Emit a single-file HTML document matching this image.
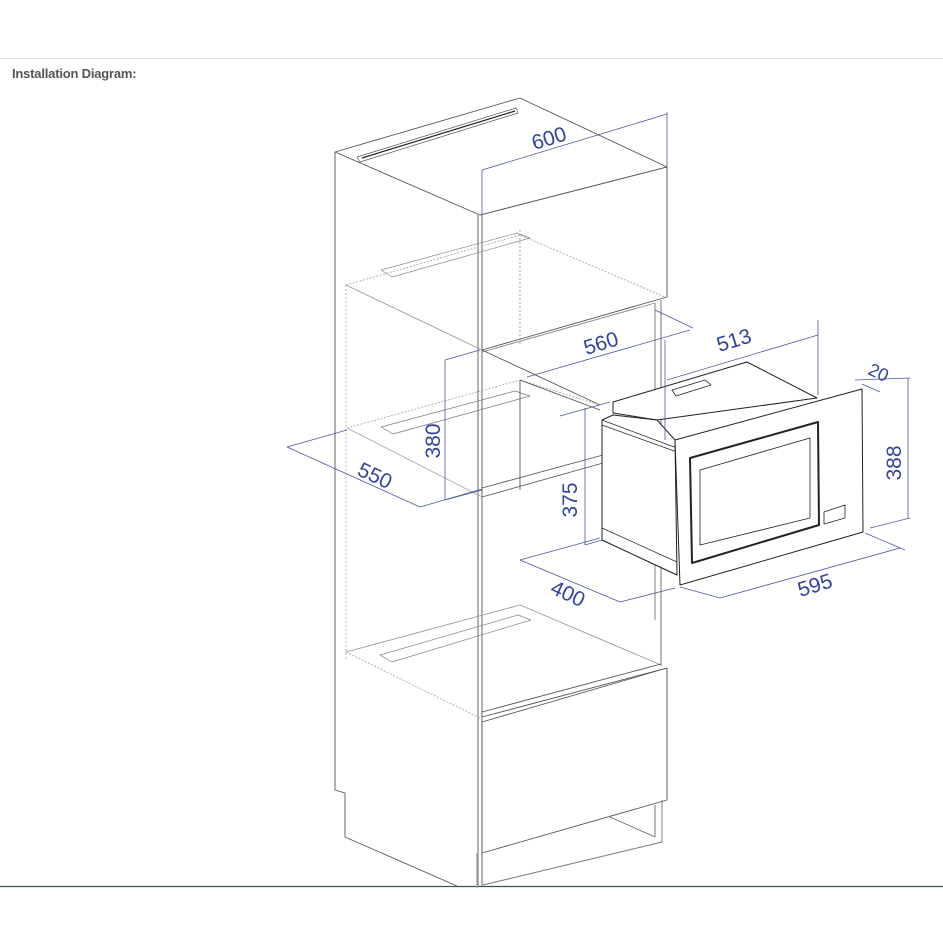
<!DOCTYPE html>
<html><head><meta charset="utf-8"><style>
html,body{margin:0;padding:0;background:#fff;width:943px;height:943px;overflow:hidden}
.t{position:absolute;left:12px;top:66px;font:bold 13px "Liberation Sans",sans-serif;color:#555;letter-spacing:-0.2px}
svg{position:absolute;left:0;top:0}
</style></head><body>
<div class="t">Installation Diagram:</div>
<svg width="943" height="943" viewBox="0 0 943 943" fill="none" stroke-linejoin="round">
<line x1="0" y1="58.5" x2="943" y2="58.5" stroke="#e2e2e2"/>
<line x1="0" y1="886.5" x2="943" y2="886.5" stroke="#2f5a5a" stroke-width="1.2"/>
<g stroke="#555" stroke-width="0.9">
<polygon points="335,152 520,98 667,167 480,215"/>
<polygon points="357,157 516,108 518,113 360,162" stroke-width="0.7"/>
<line x1="362" y1="158" x2="515" y2="111" stroke="#222" stroke-width="1.2"/>
<polyline points="480,215 667,167 667,297 482,350"/>
<polyline points="335,152 335,790 345,793 345,837 457,886"/>
<line x1="478" y1="215" x2="478" y2="886"/>
<line x1="482" y1="215" x2="482" y2="886"/>
<line x1="520" y1="380" x2="520" y2="490"/>
<line x1="520" y1="230" x2="520" y2="345" stroke-dasharray="2,2" stroke="#999"/>
<polyline points="346,285 520,235 665,297" stroke="#aaa" stroke-dasharray="2,1.5"/>
<polyline points="346,285 482,350" stroke="#999"/>
<polygon points="381,270 517,233 530,238 392,277" stroke="#888" stroke-width="0.7"/>
<line x1="346" y1="285" x2="346" y2="660" stroke="#aaa" stroke-dasharray="2,2"/>
<line x1="482" y1="352" x2="655" y2="303" stroke="#888"/>
<line x1="655" y1="303" x2="655" y2="620" stroke="#aaa" stroke-width="1.5"/>
<line x1="661" y1="300" x2="661" y2="666" stroke="#666"/>
<line x1="482" y1="350" x2="600" y2="405"/>
<polyline points="347,428 520,380 600,405" stroke="#aaa" stroke-dasharray="2,1.5"/>
<line x1="347" y1="428" x2="482" y2="497" stroke="#aaa"/>
<line x1="520" y1="380" x2="600" y2="410"/>
<polygon points="381,427 515,391 530,396 393,434" stroke="#777" stroke-width="0.7"/>
<line x1="482" y1="488" x2="603" y2="455"/>
<line x1="482" y1="497" x2="603" y2="463"/>
<polyline points="346,652 520,605 661,665" stroke="#999"/>
<polyline points="346,652 480,718" stroke="#aaa" stroke-dasharray="2,1.5"/>
<polygon points="380,655 518,615 531,620 392,662" stroke="#888" stroke-width="0.7"/>
<line x1="482" y1="712" x2="661" y2="664"/>
<line x1="482" y1="717" x2="667" y2="668"/>
<polygon points="482,722 667,668 667,800 482,853"/>
<polyline points="483,885 662,842 662,800" stroke="#777"/>
<polyline points="477,888 477,853" stroke="#aaa" stroke-width="1.5"/>
<polyline points="610,817 655,837 655,805" stroke="#666"/>
</g>
<g stroke="#222" stroke-width="1">
<polygon points="613,402 747,362 817,398 657,420 613,413" fill="#fff"/>
<polygon points="672,390 705,380 711,385 676,396" stroke-width="0.8"/>
<polygon points="602,420 613,415 657,420 675,440 677,575 602,540" fill="#fff"/>
<polyline points="602,420 677,448" stroke-width="0.7"/>
<polyline points="602,425 677,452" stroke-width="0.7"/>
<polyline points="602,528 677,562" stroke-width="0.7"/>
<polyline points="602,540 677,575" stroke-width="0.7"/>
<polygon points="675,440 862,389 863,532 680,585" fill="#fff"/>
<polygon points="690,458 818,422 819,525 692,563" stroke-width="2"/>
<polygon points="700,470 810,438 810,518 700,545" stroke-width="0.8"/>
<polygon points="824,512 845,505 845,518 824,524" stroke-width="0.8"/>
</g>
<g stroke="#4a5a9e" stroke-width="0.8">
<line x1="482" y1="170" x2="482" y2="215"/><line x1="667" y1="112" x2="667" y2="167"/>
<line x1="482" y1="170" x2="667" y2="114"/>
<line x1="527" y1="377" x2="690" y2="330"/><line x1="655" y1="310" x2="693" y2="328"/>
<line x1="445" y1="360" x2="445" y2="500"/><line x1="445" y1="360" x2="480" y2="350"/><line x1="445" y1="500" x2="482" y2="490"/>
<line x1="287" y1="447" x2="420" y2="507"/><line x1="287" y1="447" x2="347" y2="430"/><line x1="420" y1="507" x2="482" y2="489"/>
<line x1="585" y1="408" x2="585" y2="545"/><line x1="560" y1="416" x2="610" y2="402"/><line x1="585" y1="545" x2="602" y2="540"/>
<line x1="520" y1="560" x2="620" y2="602"/><line x1="520" y1="560" x2="600" y2="538"/><line x1="620" y1="602" x2="675" y2="588"/>
<line x1="667" y1="380" x2="818" y2="335"/><line x1="818" y1="320" x2="818" y2="395"/><line x1="665" y1="340" x2="665" y2="440"/>
<line x1="862" y1="384" x2="880" y2="392"/><line x1="855" y1="380" x2="910" y2="378"/>
<line x1="908" y1="378" x2="908" y2="518"/><line x1="870" y1="528" x2="910" y2="518"/>
<line x1="720" y1="598" x2="900" y2="548"/><line x1="680" y1="587" x2="720" y2="598"/><line x1="865" y1="533" x2="905" y2="550"/>
</g>
<g fill="#34449a" font-family="'Liberation Sans',sans-serif" font-size="21" text-anchor="middle">
<text transform="translate(551,145) rotate(-17)">600</text>
<text transform="translate(603,350) rotate(-17)">560</text>
<text transform="translate(440,441) rotate(-90)">380</text>
<text transform="translate(372,482) rotate(25)">550</text>
<text transform="translate(577,500) rotate(-90)">375</text>
<text transform="translate(565,600) rotate(25)">400</text>
<text transform="translate(736,347) rotate(-17)">513</text>
<text transform="translate(876,378) rotate(25)" font-size="18">20</text>
<text transform="translate(901,463) rotate(-90)">388</text>
<text transform="translate(817,592) rotate(-17)">595</text>
</g>
</svg>
</body></html>
